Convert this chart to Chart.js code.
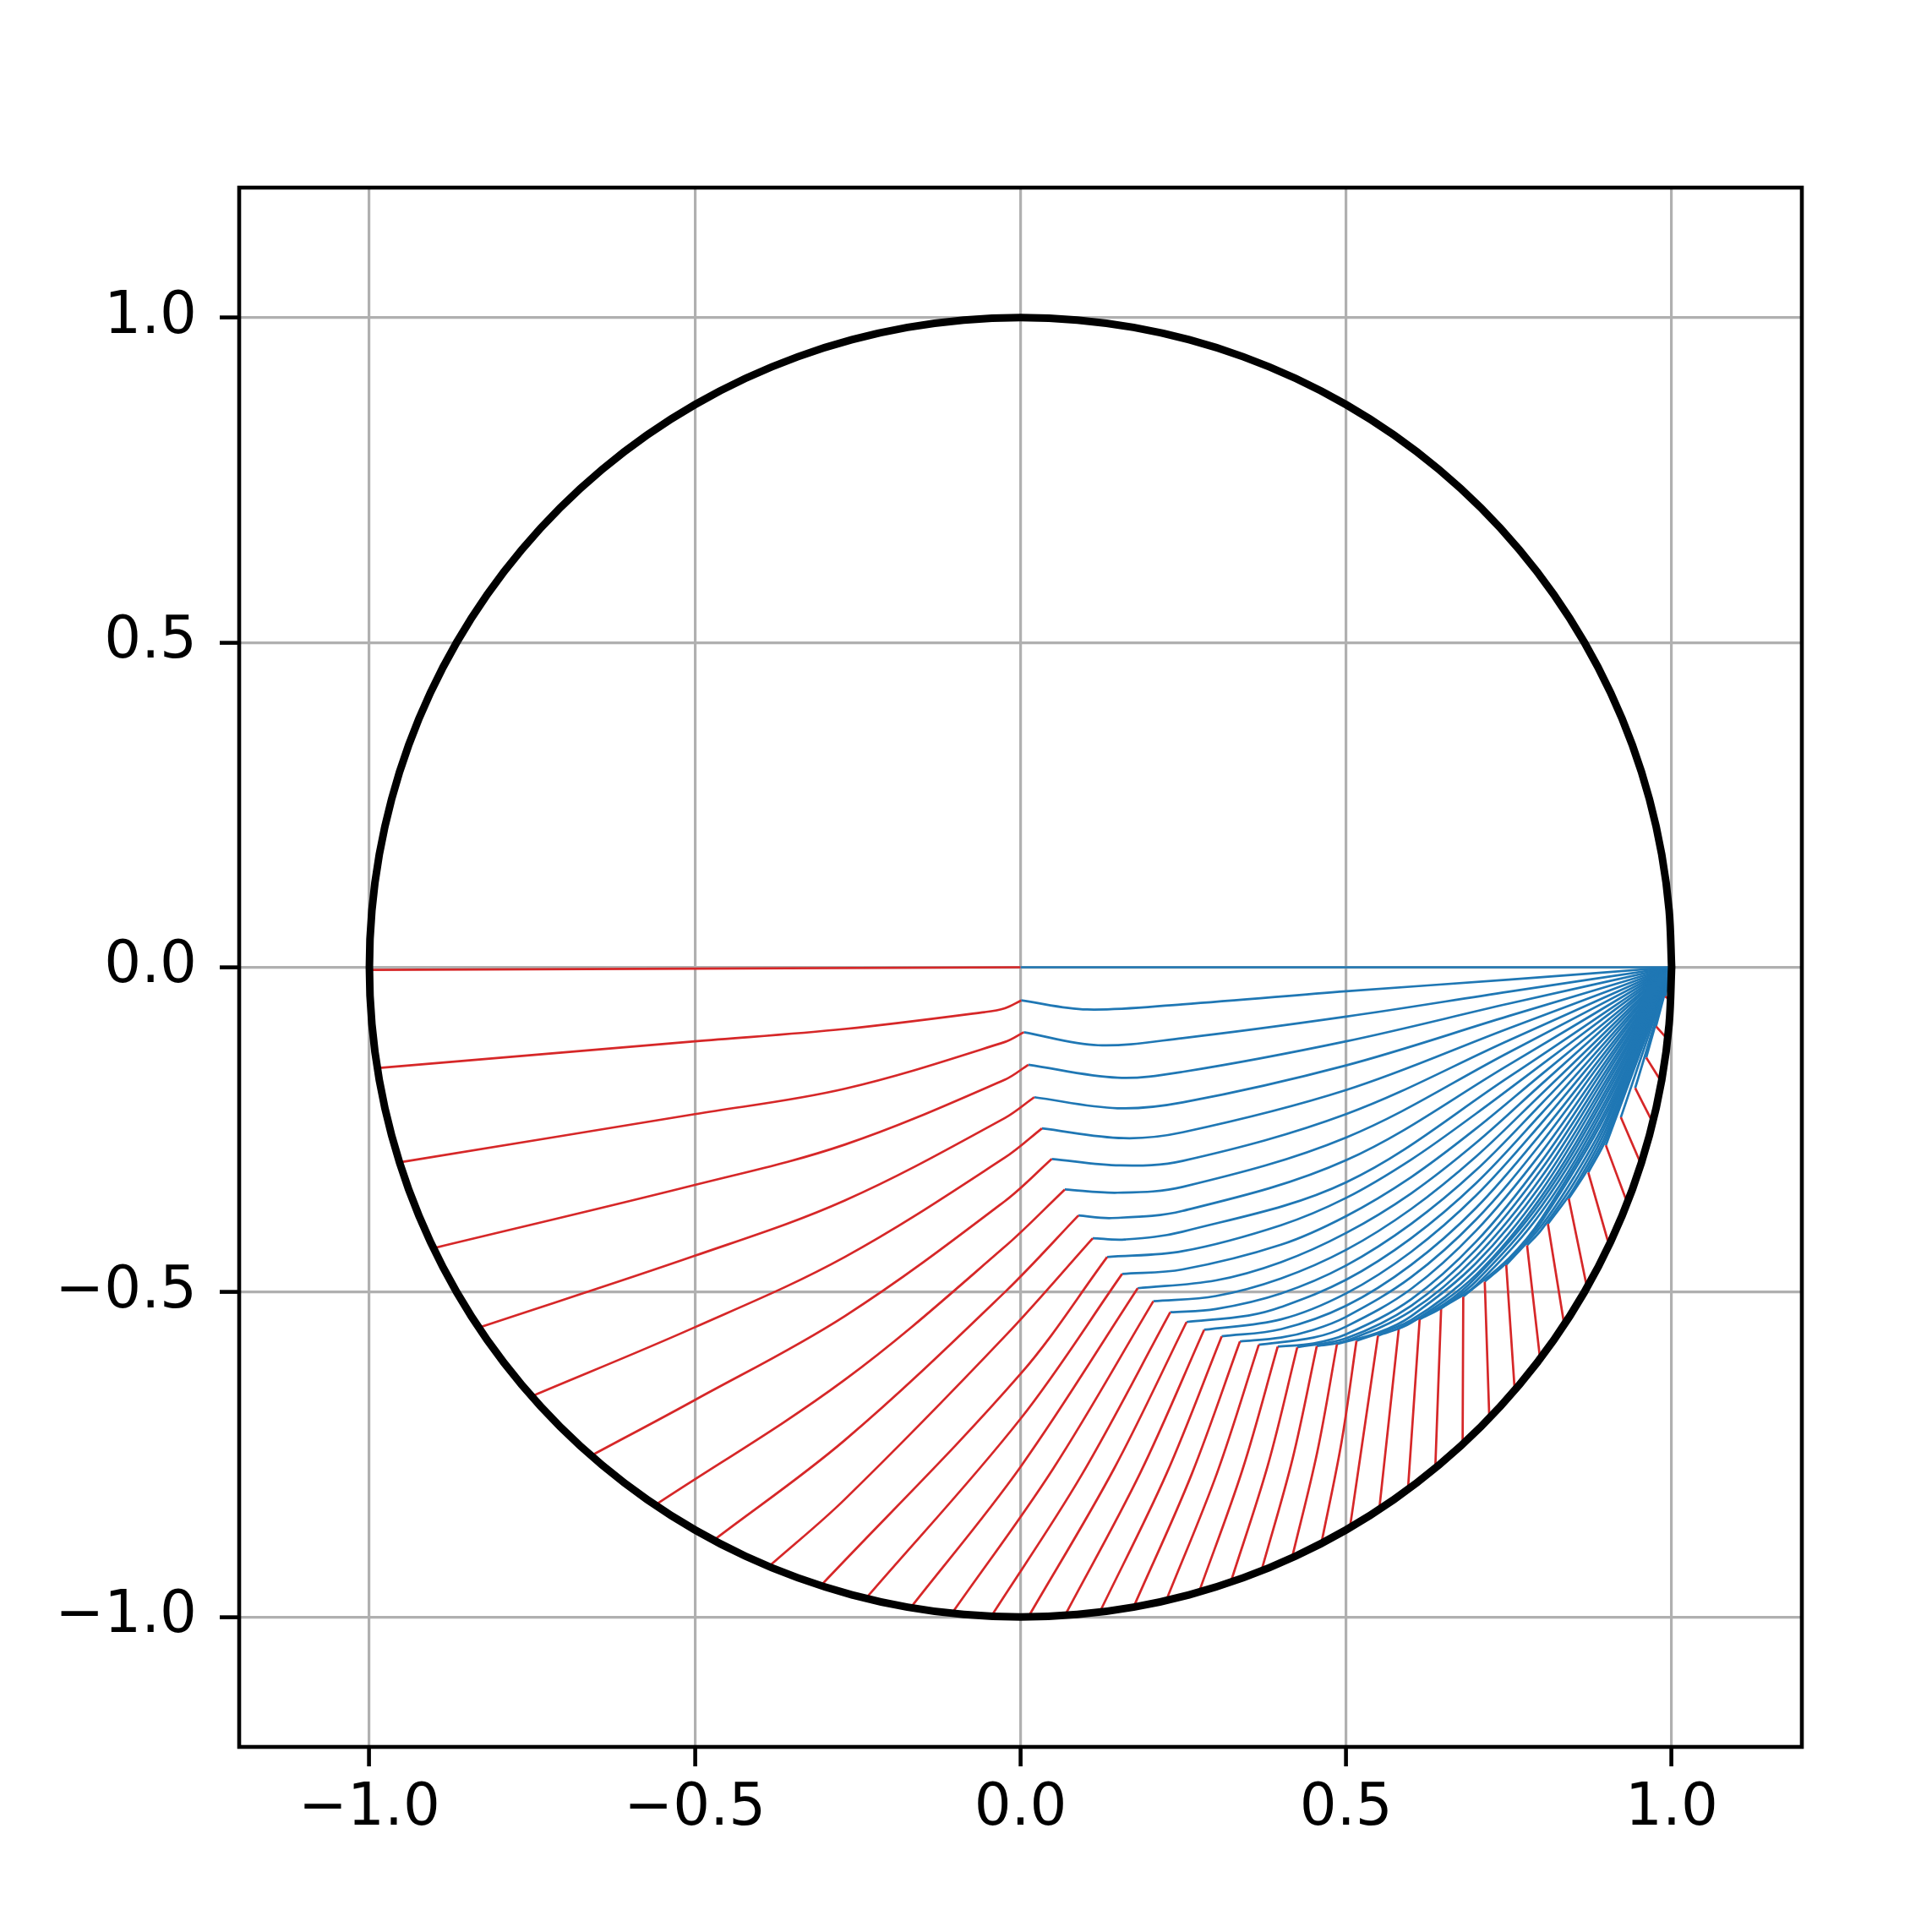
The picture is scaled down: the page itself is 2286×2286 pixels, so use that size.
<!DOCTYPE html>
<html>
<head>
<meta charset="utf-8">
<script src="https://cdn.jsdelivr.net/npm/chart.js@4.4.1/dist/chart.umd.min.js"></script>
<style>
  html, body { margin: 0; padding: 0; background: #fff; }
  canvas { display: block; }
</style>
</head>
<body>
<canvas id="chart" width="2286" height="2286"></canvas>
<script>
// axis ticks
const tickValues = [-1.0, -0.5, 0.0, 0.5, 1.0];

// unit circle outline, every 5 degrees
const circleX = [1, .9962, .9848, .9659, .9397, .9063, .866, .8192, .766, .7071, .6428, .5736, .5, .4226, .342, .2588, .1736, .0872, 0,
  -.0872, -.1736, -.2588, -.342, -.4226, -.5, -.5736, -.6428, -.7071, -.766, -.8192, -.866, -.9063, -.9397, -.9659, -.9848, -.9962, -1,
  -.9962, -.9848, -.9659, -.9397, -.9063, -.866, -.8192, -.766, -.7071, -.6428, -.5736, -.5, -.4226, -.342, -.2588, -.1736, -.0872, 0,
  .0872, .1736, .2588, .342, .4226, .5, .5736, .6428, .7071, .766, .8192, .866, .9063, .9397, .9659, .9848, .9962, 1];
const circleY = [0, .0872, .1736, .2588, .342, .4226, .5, .5736, .6428, .7071, .766, .8192, .866, .9063, .9397, .9659, .9848, .9962, 1,
  .9962, .9848, .9659, .9397, .9063, .866, .8192, .766, .7071, .6428, .5736, .5, .4226, .342, .2588, .1736, .0872, 0,
  -.0872, -.1736, -.2588, -.342, -.4226, -.5, -.5736, -.6428, -.7071, -.766, -.8192, -.866, -.9063, -.9397, -.9659, -.9848, -.9962, -1,
  -.9962, -.9848, -.9659, -.9397, -.9063, -.866, -.8192, -.766, -.7071, -.6428, -.5736, -.5, -.4226, -.342, -.2588, -.1736, -.0872, 0];

// red paths start on the circle ...
const startX = [-1.000, -0.985, -0.952, -0.900, -0.830, -0.750, -0.658, -0.560, -0.470, -0.385, -0.306,
  -0.237, -0.169, -0.105, -0.045, 0.012, 0.068, 0.122, 0.174, 0.224, 0.274, 0.323, 0.370, 0.417, 0.462,
  0.506, 0.551, 0.595, 0.637, 0.679, 0.720, 0.759, 0.798, 0.835, 0.870, 0.904, 0.932, 0.953, 0.971, 0.984, 0.994, 0.999];
const startY = [-0.004, -0.155, -0.300, -0.432, -0.554, -0.660, -0.751, -0.827, -0.881, -0.921, -0.951,
  -0.971, -0.986, -0.994, -0.999, -1.000, -0.998, -0.992, -0.984, -0.974, -0.962, -0.946, -0.929, -0.909, -0.887,
  -0.862, -0.834, -0.804, -0.771, -0.734, -0.694, -0.651, -0.603, -0.550, -0.493, -0.428, -0.363, -0.303, -0.239, -0.176, -0.111, -0.051];

// ... and turn blue at these corners
const kinkX = [0.000, 0.001, 0.005, 0.012, 0.021, 0.033, 0.048, 0.068, 0.089, 0.111, 0.133,
  0.156, 0.180, 0.204, 0.230, 0.255, 0.282, 0.309, 0.337, 0.366, 0.395, 0.425, 0.455, 0.486, 0.516,
  0.549, 0.581, 0.613, 0.646, 0.680, 0.713, 0.746, 0.778, 0.810, 0.842, 0.872, 0.899, 0.922, 0.944, 0.961, 0.976, 0.990];
const kinkY = [0.000, -0.051, -0.100, -0.150, -0.200, -0.248, -0.295, -0.342, -0.382, -0.417, -0.446,
  -0.472, -0.494, -0.514, -0.531, -0.546, -0.558, -0.568, -0.576, -0.581, -0.584, -0.585, -0.583, -0.580, -0.575,
  -0.567, -0.556, -0.542, -0.525, -0.507, -0.484, -0.458, -0.428, -0.395, -0.356, -0.316, -0.274, -0.231, -0.186, -0.139, -0.091, -0.045];

// every blue path ends here
const sinkX = 1.0;
const sinkY = 0.0;

// points read along the red paths, between start and corner
const redBends = [
  [],
  [[-0.5, -0.114], [-0.27, -0.095], [-0.055, -0.069], [-0.024, -0.063]],
  [[-0.5, -0.226], [-0.27, -0.187], [-0.024, -0.115]],
  [[-0.5, -0.335], [-0.27, -0.273], [-0.024, -0.173]],
  [[-0.5, -0.444], [-0.27, -0.359], [-0.024, -0.232]],
  [[-0.5, -0.554], [-0.27, -0.446], [-0.024, -0.293]],
  [[-0.5, -0.666], [-0.27, -0.537], [-0.024, -0.360]],
  [[-0.27, -0.635], [-0.024, -0.430]],
  [[-0.27, -0.728], [-0.024, -0.500]],
  [[-0.27, -0.819], [-0.024, -0.568]],
  [[0, -0.626]],
  [[0, -0.695]],
  [[0, -0.769]],
  [[0.050, -0.772]],
  [[0.093, -0.783]],
  [[0.143, -0.773]],
  [[0.184, -0.778]],
  [[0.224, -0.780]],
  [[0.263, -0.780]],
  [[0.302, -0.778]],
  [[0.341, -0.773]],
  [[0.380, -0.766]],
  [[0.418, -0.756]],
  [[0.456, -0.745]],
  [[0.493, -0.731]],
  [], [], [], [], [], [], [], [], [], [], [], [], [], [], [], [], []
];

// points read along the blue paths, between corner and sink
const blueBends = [
  [],
  [[0.102, -0.065], [0.249, -0.057], [0.5, -0.037], [0.75, -0.019]],
  [[0.119, -0.120], [0.249, -0.109], [0.5, -0.076], [0.75, -0.0375]],
  [[0.149, -0.170], [0.249, -0.161], [0.5, -0.114], [0.75, -0.056]],
  [[0.149, -0.217], [0.249, -0.208], [0.5, -0.151], [0.75, -0.075]],
  [[0.158, -0.263], [0.249, -0.254], [0.5, -0.189], [0.75, -0.094]],
  [[0.153, -0.305], [0.249, -0.298], [0.5, -0.226], [0.75, -0.1125]],
  [[0.149, -0.347], [0.249, -0.338], [0.5, -0.262], [0.75, -0.131]],
  [[0.140, -0.386], [0.249, -0.375], [0.5, -0.297], [0.75, -0.150]],
  [[0.160, -0.419], [0.249, -0.407], [0.5, -0.331], [0.75, -0.169]],
  [[0.249, -0.437], [0.4, -0.397], [0.5, -0.355], [0.6, -0.296], [0.7, -0.225], [0.8, -0.150], [0.9, -0.075]],
  [[0.249, -0.465], [0.4, -0.427], [0.5, -0.383], [0.6, -0.323], [0.7, -0.248], [0.8, -0.165], [0.9, -0.083]],
  [[0.3, -0.482], [0.4, -0.454], [0.5, -0.409], [0.6, -0.348], [0.7, -0.270], [0.8, -0.180], [0.9, -0.090]],
  [[0.3, -0.506], [0.4, -0.479], [0.5, -0.435], [0.6, -0.372], [0.7, -0.291], [0.8, -0.195], [0.9, -0.098]],
  [[0.3, -0.526], [0.4, -0.502], [0.5, -0.459], [0.6, -0.395], [0.7, -0.312], [0.8, -0.210], [0.9, -0.105]],
  [[0.35, -0.536], [0.4, -0.523], [0.5, -0.481], [0.6, -0.417], [0.7, -0.332], [0.8, -0.225], [0.9, -0.113]],
  [[0.4, -0.542], [0.5, -0.502], [0.6, -0.438], [0.7, -0.351], [0.8, -0.240], [0.9, -0.120]],
  [[0.4, -0.557], [0.5, -0.521], [0.6, -0.458], [0.7, -0.370], [0.8, -0.255], [0.9, -0.128]],
  [[0.4, -0.570], [0.45, -0.558], [0.5, -0.538], [0.6, -0.477], [0.7, -0.388], [0.8, -0.270], [0.9, -0.135]],
  [[0.45, -0.570], [0.5, -0.553], [0.6, -0.495], [0.7, -0.405], [0.8, -0.285], [0.9, -0.143]],
  [[0.45, -0.579], [0.5, -0.565], [0.6, -0.511], [0.7, -0.422], [0.8, -0.299], [0.9, -0.150]],
  [[0.5, -0.571], [0.6, -0.521], [0.7, -0.434], [0.8, -0.311], [0.9, -0.158]],
  [[0.5, -0.575], [0.6, -0.529], [0.7, -0.445], [0.8, -0.323], [0.9, -0.165]],
  [[0.55, -0.562], [0.6, -0.537], [0.7, -0.455], [0.8, -0.334], [0.9, -0.173]],
  [[0.6, -0.543], [0.7, -0.465], [0.8, -0.344], [0.9, -0.180]],
  [[0.6, -0.547], [0.7, -0.473], [0.8, -0.353], [0.9, -0.188]],
  [[0.65, -0.519], [0.7, -0.477], [0.8, -0.360], [0.9, -0.195]],
  [[0.65, -0.522], [0.7, -0.483], [0.8, -0.368], [0.9, -0.203]],
  [[0.7, -0.489], [0.8, -0.377], [0.9, -0.210]],
  [[0.75, -0.448], [0.8, -0.387], [0.9, -0.218]],
  [[0.75, -0.451], [0.8, -0.392], [0.9, -0.225]],
  [[0.8, -0.398], [0.85, -0.323], [0.9, -0.233]],
  [[0.8, -0.404], [0.85, -0.332], [0.9, -0.240]],
  [[0.85, -0.340], [0.9, -0.248]],
  [[0.87, -0.313], [0.9, -0.256]],
  [[0.9, -0.263]],
  [], [], [], [], [], []
];

const RED = '#d62728';
const BLUE = '#1f77b4';
const PATH_W = 2.7;
const SMOOTH = 0.35;

function pt(p) { return { x: p[0], y: p[1] }; }

const datasets = [{
  data: circleX.map((x, i) => ({ x, y: circleY[i] })),
  borderColor: '#000',
  borderWidth: 9,
  borderCapStyle: 'round',
  borderJoinStyle: 'round',
  tension: 0.33,
  order: 0
}];

kinkX.forEach((kx, i) => {
  const kink = { x: kx, y: kinkY[i] };
  datasets.push({
    data: [{ x: startX[i], y: startY[i] }, ...redBends[i].map(pt), kink],
    borderColor: RED, borderWidth: PATH_W, tension: SMOOTH, order: 1
  });
  datasets.push({
    data: [kink, ...blueBends[i].map(pt), { x: sinkX, y: sinkY }],
    borderColor: BLUE, borderWidth: PATH_W, tension: SMOOTH, order: 1
  });
});

const fmt = v => (v < 0 ? '\u2212' : '') + Math.abs(v).toFixed(1);
const tickFont = { family: '"DejaVu Sans", sans-serif', size: 69 };

const frame = {
  id: 'frame',
  afterDraw(chart) {
    const { ctx, chartArea: a } = chart;
    ctx.save();
    ctx.strokeStyle = '#000';
    ctx.lineWidth = 4.6;
    ctx.strokeRect(a.left, a.top, a.right - a.left, a.bottom - a.top);
    ctx.restore();
  }
};

const axis = (extra) => Object.assign({
  type: 'linear',
  min: -1.2,
  max: 1.2,
  afterBuildTicks: s => { s.ticks = tickValues.map(v => ({ value: v })); },
  border: { display: false },
  grid: { color: '#b0b0b0', lineWidth: 3.2, drawTicks: true, tickLength: 23, tickWidth: 4.6, tickColor: '#000' }
}, extra);

new Chart(document.getElementById('chart'), {
  type: 'scatter',
  data: { datasets },
  options: {
    responsive: false,
    animation: false,
    devicePixelRatio: 1,
    showLine: true,
    layout: { padding: { left: 0, top: 222, right: 154, bottom: 0 } },
    elements: { point: { radius: 0, hoverRadius: 0 }, line: { fill: false } },
    plugins: { legend: { display: false }, tooltip: { enabled: false } },
    scales: {
      x: axis({
        position: 'bottom',
        afterFit: s => { s.height = 219; },
        ticks: { color: '#000', font: tickFont, autoSkip: false, maxRotation: 0, padding: 10, callback: fmt }
      }),
      y: axis({
        position: 'left',
        afterFit: s => { s.width = 283; },
        ticks: { color: '#000', font: tickFont, autoSkip: false, padding: 27, callback: fmt }
      })
    }
  },
  plugins: [frame]
});
</script>
</body>
</html>
